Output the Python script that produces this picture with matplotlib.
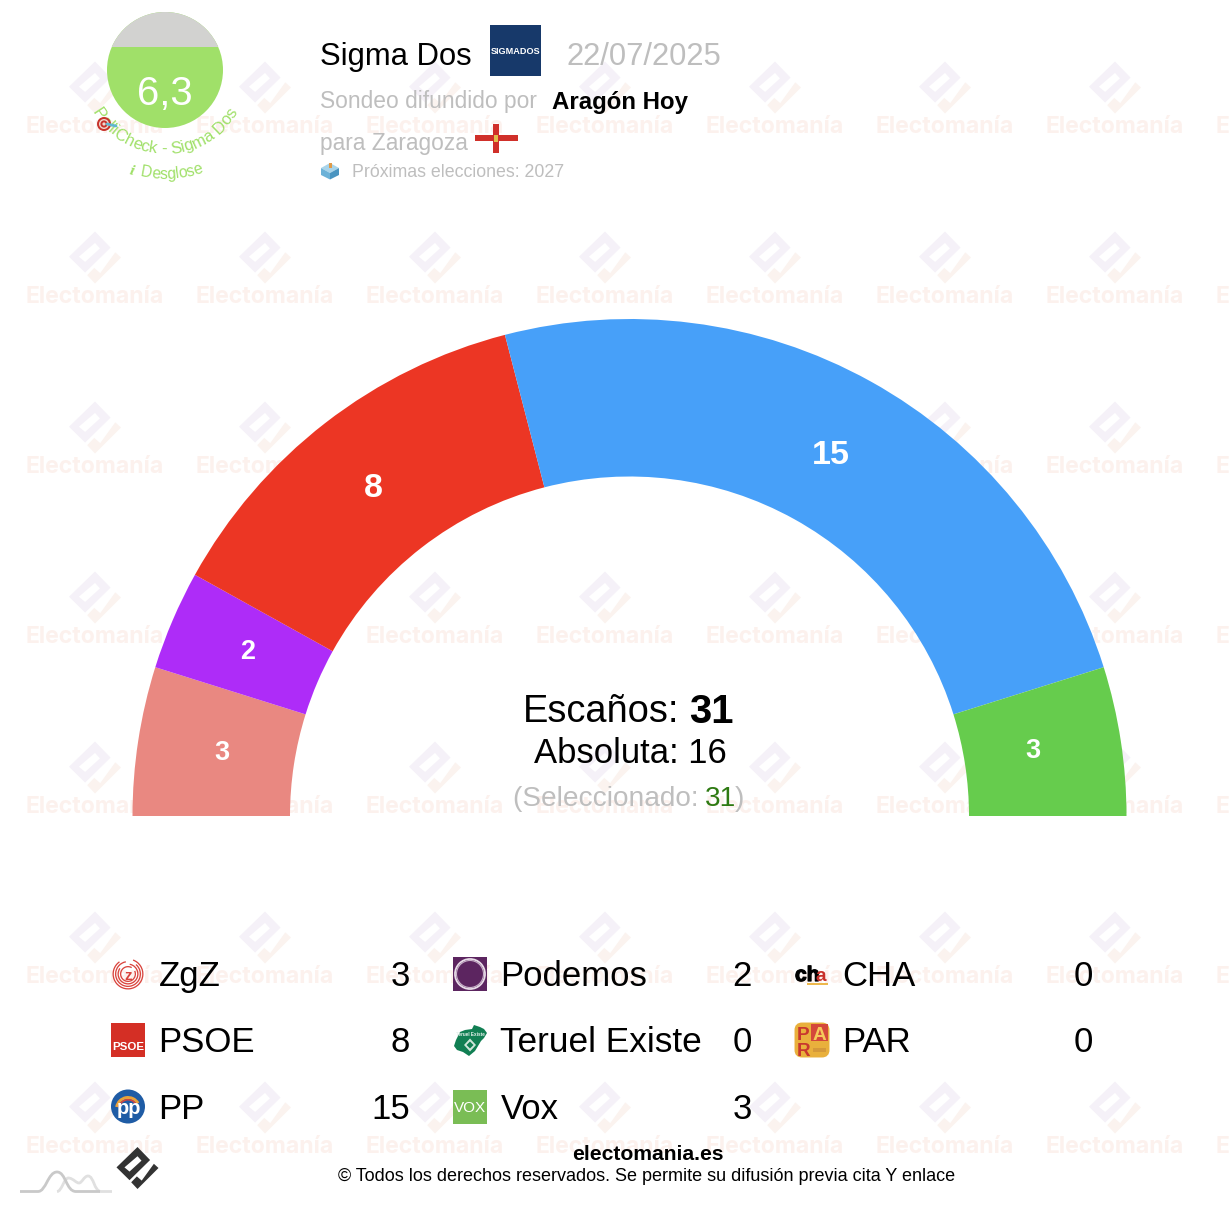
import numpy as np
import matplotlib
matplotlib.use("Agg")
import matplotlib.pyplot as plt
import matplotlib.patheffects as pe
from matplotlib.patches import Circle, Rectangle, Polygon, Wedge, FancyBboxPatch, PathPatch
from matplotlib.path import Path
from matplotlib.textpath import TextPath
from matplotlib.font_manager import FontProperties

# ---- data ----
arc_parties = ["ZgZ", "Podemos", "PSOE", "PP", "Vox"]
arc_seats = [3, 2, 8, 15, 3]
arc_colors = ["#E98881", "#AE2CF8", "#EC3624", "#47A0F9", "#66CC4D"]
legend_col1 = ["ZgZ", "PSOE", "PP"]
legend_col1_seats = [3, 8, 15]
legend_col2 = ["Podemos", "Teruel Existe", "Vox"]
legend_col2_seats = [2, 0, 3]
legend_col3 = ["CHA", "PAR"]
legend_col3_seats = [0, 0]
total_seats = 31
majority = 16
selected = 31
rating = "6,3"
pollster = "Sigma Dos"
poll_date = "22/07/2025"

FONT = "Liberation Sans"
W, H = 1230, 1222
fig = plt.figure(figsize=(W / 100, H / 100), dpi=100)
ax = fig.add_axes([0, 0, 1, 1])


def Y(py):
    return H - py


def T(x, py, s, px, color="black", weight="normal", ha="left", va="baseline", z=5, family=FONT, **kw):
    return ax.text(x, Y(py), s, fontsize=px * 0.72, color=color, fontweight=weight, ha=ha, va=va,
                   family=family, zorder=z, **kw)


def P(points, color, z=1, **kw):
    p = Polygon([(x, Y(y)) for x, y in points], closed=True, facecolor=color, edgecolor="none", zorder=z, **kw)
    ax.add_patch(p)
    return p


# Electomania logo in unit coordinates
LOGO_MAIN = [(0, -1), (.6, -.38), (-.38, .58), (-1, -.03)]
LOGO_SLOT = [(-.62, -.03), (0, -.56), (.19, -.35), (-.38, .17)]
LOGO_L = [(1, 0), (0, 1), (-.3, .68), (-.03, .4), (.2, .6), (.78, -.2)]


def logo(cx, cy, r, main, slot, low, z):
    tr = lambda pts: [(cx + r * a, cy + r * b) for a, b in pts]
    P(tr(LOGO_MAIN), main, z)
    P(tr(LOGO_SLOT), slot, z + .01)
    P(tr(LOGO_L), low, z)


# watermark
for cx in range(95, 1300, 170):
    for row in range(7):
        t = T(cx, 133 + 170 * row, "Electomanía", 23, color="#FCF1ED", weight="bold", ha="center", z=0, family="Inter")
        t.set_clip_on(True)
        if cx < 1200:
            logo(cx, 87.5 + 170 * row, 26, "#F5F1F8", "white", "#FBF3EF", 0.2)

# hemicycle
cx0, cy0, R_out, R_in = 629.5, 816, 497, 339.5
vals = arc_seats + [sum(arc_seats)]
wedges, _ = ax.pie(vals, startangle=180, counterclock=False, radius=R_out, center=(cx0, Y(cy0)),
                   colors=arc_colors + ["none"], wedgeprops=dict(width=R_out - R_in, linewidth=0))
for w in wedges:
    w.set_zorder(2)
cum = 0
label_radius = {"ZgZ": 412, "Podemos": 416, "PSOE": 418, "PP": 414, "Vox": 408}
label_lift = {"ZgZ": 4, "Podemos": 3, "PSOE": 0, "PP": 2, "Vox": 6}
for name, s in zip(arc_parties, arc_seats):
    a = np.pi * (1 - (cum + s / 2) / sum(arc_seats))
    r = label_radius[name]
    T(cx0 + r * np.cos(a), cy0 - r * np.sin(a) - label_lift[name], str(s), 34 if s >= 8 else 27, color="white",
      weight="bold", ha="center", va="center_baseline", z=4)
    cum += s
ax.set_xlim(0, W)
ax.set_ylim(0, H)
ax.set_aspect("auto")
ax.axis("off")

# central labels
T(523, 722, "Escaños:", 38)
T(689.5, 723, str(total_seats), 40, weight="bold")
T(630, 763, f"Absoluta: {majority}", 34.6, ha="center")
T(513, 806, "(Seleccionado: ", 28, color="#BEBEBE")
T(705, 806, str(selected), 28, color="#2E7A12")
T(735, 806, ")", 28, color="#BEBEBE")

# gauge
gc = (165, Y(70))
base = Circle(gc, 58, facecolor="#A0E069", edgecolor="none", zorder=3)
ax.add_patch(base)
cap = Rectangle((100, Y(47)), 130, 40, facecolor="#D2D2D0", edgecolor="none", zorder=3.1)
ax.add_patch(cap)
cap.set_clip_path(base)
T(164.5, 105.5, rating, 40, color="white", ha="center")


def arc_text(s, radius, px, start_center_deg=0, color="#A0E069"):
    fp = FontProperties(family=FONT, size=px)
    bar = TextPath((0, 0), "|", prop=fp).get_extents().x1
    ends = np.array([TextPath((0, 0), s[:i + 1] + "|", prop=fp).get_extents().x1 - bar for i in range(len(s))])
    starts = np.r_[0, ends[:-1]]
    mids = (starts + ends) / 2 - ends[-1] / 2
    for ch, m in zip(s, mids):
        ang = m / radius + np.radians(start_center_deg)
        x = 165 + radius * np.sin(ang)
        y = 70 + radius * np.cos(ang)
        ax.text(x, Y(y), ch, fontsize=px * .72, color=color, family=FONT, ha="center", va="baseline",
                rotation=np.degrees(ang), rotation_mode="anchor", zorder=5)


arc_text("PolliCheck - Sigma Dos", 84, 16.8)
arc_text("Desglose", 109, 15.6, start_center_deg=3.8)
ax.text(132, Y(175), "i", fontsize=9, color="#A0E069", family="DejaVu Serif", fontstyle="italic", fontweight="bold",
        rotation=-15, ha="center", va="baseline", zorder=5)

# target icon
tc = (104, Y(124))
for r, c in [(7, "#C8342C"), (5, "#EFD8D0"), (3.6, "#C8342C"), (1.6, "#EFD8D0")]:
    ax.add_patch(Circle(tc, r, facecolor=c, edgecolor="none", zorder=6))
ax.plot([107, 116], [Y(124), Y(126)], color="#5FB6D0", lw=2, zorder=6.1, solid_capstyle="round")

# header
T(320, 65, pollster, 31)
ax.add_patch(Rectangle((490, Y(76)), 51, 51, facecolor="#17396A", edgecolor="none", zorder=3))
T(515.5, 54, "SIGMADOS", 9.2, color="white", weight="bold", ha="center", z=4)
T(567, 65, poll_date, 31, color="#BEBEBE")
T(320, 108, "Sondeo difundido por", 22.8, color="#BEBEBE")
T(552, 109, "Aragón Hoy", 24, weight="bold")
T(320, 150, "para Zaragoza", 22.8, color="#BEBEBE")
ax.add_patch(Rectangle((474.5, Y(141)), 43, 6, facecolor="#D0302A", zorder=3))
ax.add_patch(Rectangle((493, Y(152.5)), 6, 29, facecolor="#D0302A", zorder=3))
ax.add_patch(Rectangle((494, Y(141.5)), 4, 6.5, facecolor="#E2BE4A", zorder=3.1))
# ballot box
P([(330, 163), (339, 168), (330, 173), (321, 168)], "#A8D4EA", 3)
P([(321, 168), (330, 173), (330, 179.5), (321, 175)], "#6CB2D8", 3)
P([(339, 168), (330, 173), (330, 179.5), (339, 175)], "#4A94C0", 3)
P([(328.5, 163), (331.5, 163), (331.5, 168), (328.5, 168)], "#E09A48", 3.1)
T(352, 177, "Próximas elecciones: 2027", 17.7, color="#BEBEBE")

# legend
rows = [986, 1052, 1119]
for names, seats, xt, xv in [(legend_col1, legend_col1_seats, 158.5, 410),
                             (legend_col2, legend_col2_seats, 500.5, 752),
                             (legend_col3, legend_col3_seats, 842.5, 1093)]:
    for name, s, by in zip(names, seats, rows):
        T(xt, by, name, 35.2 if name == "Teruel Existe" else 34.8)
        T(xv, by, str(s), 34.8, ha="right")

# party logos
# ZgZ
zc = (128, Y(974))
for r, t1, t2 in [(15.5, 125, 430), (13, 100, 410), (10.5, 145, 440), (8, 60, 385)]:
    ax.add_patch(Wedge(zc, r, t1, t2, width=1.3, facecolor="#D9433C", edgecolor="none", zorder=3))
T(128, 979.5, "z", 15, color="#D9433C", weight="bold", ha="center", z=4)
# PSOE
ax.add_patch(Rectangle((111, Y(1057)), 34, 34, facecolor="#D42F25", edgecolor="none", zorder=3))
T(128, 1050, "PSOE", 11.5, color="white", weight="bold", ha="center", z=4)
# PP
pc = (128, Y(1106.5))
ax.add_patch(Circle(pc, 17, facecolor="#1F5CA5", edgecolor="none", zorder=3))
ax.add_patch(Wedge((128, Y(1109)), 13, 30, 170, width=3, facecolor="#E9A13B", edgecolor="none", zorder=3.1))
ax.add_patch(Wedge((128, Y(1109)), 10, 30, 170, width=1.5, facecolor="#D9433C", edgecolor="none", zorder=3.1))
T(128.5, 1114, "pp", 20, color="white", weight="bold", ha="center", z=4)
# Podemos
ax.add_patch(Rectangle((453, Y(991)), 34, 34, facecolor="#5C2560", edgecolor="none", zorder=3))
ax.add_patch(Circle((470, Y(974)), 15, facecolor="none", edgecolor="#E8DCE8", lw=1.3, zorder=3.1))
ax.add_patch(Circle((470, Y(974)), 13.5, facecolor="none", edgecolor="#C9B2CA", lw=.8, zorder=3.1))
# Teruel Existe
P([(456, 1040), (460, 1032), (465, 1030), (472, 1029), (474, 1025), (480, 1027), (484, 1029), (487, 1033),
   (484, 1038), (481, 1041), (478, 1046), (475, 1051), (469, 1056), (463, 1052), (457, 1050), (454, 1046)],
  "#117F53", 3)
P([(464, 1045), (470, 1038.5), (476, 1045), (470, 1051.5)], "#CFE6DA", 3.1)
P([(466.5, 1045), (470, 1041.5), (473.5, 1045), (470, 1048.5)], "#117F53", 3.2)
T(470, 1035.5, "Teruel Existe", 4.6, color="#E6F2EC", weight="bold", ha="center", z=4)
# Vox
ax.add_patch(Rectangle((453, Y(1124)), 34, 34, facecolor="#7ABD55", edgecolor="none", zorder=3))
T(470, 1112.5, "VOX", 15.3, color="white", ha="center", z=4)
# CHA
stroke = [pe.withStroke(linewidth=.9, foreground="black")]
T(795, 981, "ch", 21, color="black", weight="bold", z=4, path_effects=stroke)
T(816, 981, "a", 19, color="#C8302A", weight="bold", z=4)
ax.add_patch(Rectangle((807, Y(984.5)), 21, 1.3, facecolor="#EDB84C", edgecolor="none", zorder=3))
# PAR
ax.add_patch(FancyBboxPatch((798, Y(1054)), 28, 28, boxstyle="round,pad=0,rounding_size=4",
                            facecolor="#E9B03C", edgecolor="#E9B03C", lw=5, zorder=3))
ax.add_patch(Rectangle((811, Y(1041)), 17, 17, facecolor="#D4483A", edgecolor="none", zorder=3.05))
T(803.5, 1040, "P", 19, color="#C8382E", weight="bold", ha="center", z=4)
T(819.5, 1040, "A", 19, color="#F5C95A", weight="bold", ha="center", z=4)
T(803.5, 1056, "R", 19, color="#C8382E", weight="bold", ha="center", z=4)
ax.add_patch(Rectangle((813, Y(1052)), 13, 4, facecolor="#C98A3A", alpha=.6, edgecolor="none", zorder=3.05))

# footer
T(648, 1160, "electomania.es", 21.1, weight="bold", ha="center")
T(647, 1181, "© Todos los derechos reservados. Se permite su difusión previa cita Y enlace", 18, ha="center")
logo(137.5, 1168, 21, "#333333", "white", "#333333", 3)
# waves decoration
wave1 = [(20, 1191.5), (38, 1191.5), (46, 1191.5), (48, 1172), (57, 1172), (66, 1172), (66, 1191.5), (76, 1191.5), (84, 1191.5), (100, 1191.5), (100, 1191.5)]
codes1 = [Path.MOVETO, Path.LINETO, Path.CURVE4, Path.CURVE4, Path.CURVE4, Path.CURVE4, Path.CURVE4, Path.CURVE4, Path.LINETO, Path.LINETO, Path.LINETO]
ax.add_patch(PathPatch(Path([(x, Y(y)) for x, y in wave1], codes1), facecolor="none", edgecolor="#C9C9C9", lw=2, zorder=3))
wave2 = [(57, 1191.5), (62, 1191.5), (64, 1177), (69, 1178), (74, 1179), (76, 1183), (79, 1183), (82, 1183), (84, 1176), (88, 1176), (94, 1176), (94, 1191.5), (101, 1191.5), (112, 1191.5)]
codes2 = [Path.MOVETO] + [Path.CURVE4] * 12 + [Path.LINETO]
ax.add_patch(PathPatch(Path([(x, Y(y)) for x, y in wave2], codes2), facecolor="none", edgecolor="#E0E0E0", lw=2, zorder=2.9))

fig.savefig("out.png", dpi=100, facecolor="white")
